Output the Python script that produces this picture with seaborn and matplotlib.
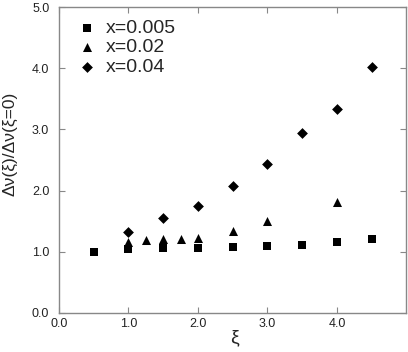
import pandas as pd
import matplotlib
matplotlib.use("Agg")
import matplotlib.pyplot as plt
import seaborn as sns

# данные
xi_005 = [0.5, 1.0, 1.5, 2.0, 2.5, 3.0, 3.5, 4.0, 4.5]
dv_005 = [1.00, 1.05, 1.06, 1.06, 1.07, 1.10, 1.11, 1.15, 1.20]

xi_02 = [1.0, 1.25, 1.5, 1.75, 2.0, 2.5, 3.0, 4.0]
dv_02 = [1.15, 1.19, 1.20, 1.20, 1.23, 1.34, 1.50, 1.81]

xi_04 = [1.0, 1.5, 2.0, 2.5, 3.0, 3.5, 4.0, 4.5]
dv_04 = [1.32, 1.55, 1.74, 2.08, 2.43, 2.95, 3.34, 4.03]

series = ["x=0.005", "x=0.02", "x=0.04"]

df = pd.concat(
    [
        pd.DataFrame({"xi": xi_005, "dv": dv_005, "series": series[0]}),
        pd.DataFrame({"xi": xi_02, "dv": dv_02, "series": series[1]}),
        pd.DataFrame({"xi": xi_04, "dv": dv_04, "series": series[2]}),
    ],
    ignore_index=True,
)

sns.set_style("ticks")
plt.rcParams["font.family"] = ["Liberation Sans", "DejaVu Sans"]

fig = plt.figure(figsize=(4.08, 3.52), dpi=100)
ax = fig.add_axes([0.1446, 0.1116, 0.8517, 0.8676])

markers = {"x=0.005": "s", "x=0.02": "^", "x=0.04": "D"}
sizes_pt = {"x=0.005": 6.0, "x=0.02": 6.5, "x=0.04": 5.5}
for name in series:
    sub = df[df["series"] == name]
    sns.scatterplot(
        data=sub, x="xi", y="dv", marker=markers[name], color="black",
        s=sizes_pt[name] ** 2, edgecolor="black", linewidth=0, label=name, ax=ax,
    )

ax.set_xlim(0, 5)
ax.set_ylim(0, 5)
ax.set_xticks([0, 1, 2, 3, 4])
ax.set_xticklabels(["0.0", "1.0", "2.0", "3.0", "4.0"])
ax.set_yticks([0, 1, 2, 3, 4, 5])
ax.set_yticklabels(["0.0", "1.0", "2.0", "3.0", "4.0", "5.0"])
ax.tick_params(direction="in", length=4, width=0.8, color="#888888",
               labelsize=9, labelcolor="#222222", top=True, right=True)
ax.tick_params(axis="y", pad=7)
ax.tick_params(axis="x", pad=4)
for sp in ax.spines.values():
    sp.set_visible(True)
    sp.set_color("#888888")
    sp.set_linewidth(1.0)

ax.set_xlabel("ξ", fontsize=14)
ax.set_ylabel("Δν(ξ)/Δν(ξ=0)", fontsize=12.5)
ax.yaxis.set_label_coords(-0.12, 0.552)
ax.xaxis.set_label_coords(0.505, -0.055)

ax.legend(loc="upper left", bbox_to_anchor=(0.03, 0.985), frameon=False,
          fontsize=14, handletextpad=0.45, labelspacing=0.08, borderaxespad=0,
          handlelength=1.0, markerscale=1.0)

fig.savefig("out.png", dpi=100)
